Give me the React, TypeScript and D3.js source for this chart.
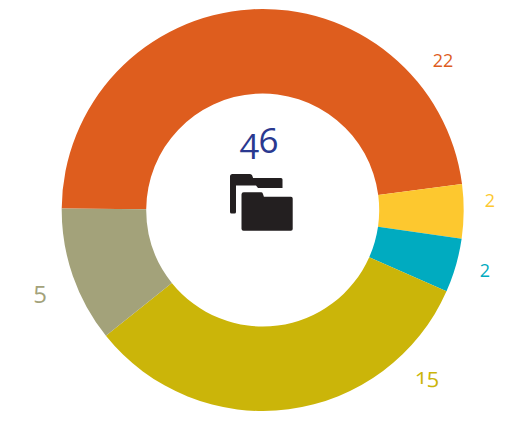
import React, { useEffect, useRef } from 'react';
import * as d3 from 'd3';

const categories = ['a', 'b', 'c', 'd', 'e'];
const values = [22, 2, 2, 15, 5];
const colors = ['#de5d1e', '#fdc82f', '#00abc0', '#cbb509', '#a3a27a'];
const labelX = [443, 490, 485, 427, 40];
const labelY = [67, 207, 277, 384, 303];
const labelSize = [18, 18, 18, 22, 24];
const total = 46;

const width = 518;
const height = 421;
const cx = 262.7;
const cy = 210;

const backFolder = 'M230 176.5q0-2.5 2.5-2.5H250q1.6 0 2.2 1.6l.9 2.4H281q1.5 0 1.5 1.5V188H258L256 185.5H236V212q0 1.5-1.5 1.5h-3q-1.5 0-1.5-1.5z';
const frontFolder = 'M241.5 194.5q0-2.2 2.2-2.2H261q1.4 0 1.9 1.4l1 3H291q1.7 0 1.7 1.7v30.6q0 1.8-1.8 1.8h-47.4q-2 0-2-2z';

const App = () => {
    const ref = useRef<SVGSVGElement>(null);

    useEffect(() => {
        const svg = d3.select(ref.current);
        svg.selectAll('*').remove();

        const color = d3.scaleOrdinal<string>().domain(categories).range(colors);
        const startAngle = (-89.6 * Math.PI) / 180;
        const pie = d3.pie<number>().sort(null).startAngle(startAngle).endAngle(startAngle + 2 * Math.PI);
        const arc = d3.arc<d3.PieArcDatum<number>>().innerRadius(116.5).outerRadius(201);

        svg.append('g')
            .attr('transform', `translate(${cx},${cy})`)
            .selectAll('path')
            .data(pie(values))
            .enter()
            .append('path')
            .attr('d', arc)
            .attr('fill', (d, i) => color(categories[i]));

        svg.selectAll('.label')
            .data(values)
            .enter()
            .append('text')
            .attr('class', 'label')
            .attr('x', (d, i) => labelX[i])
            .attr('y', (d, i) => labelY[i])
            .attr('text-anchor', 'middle')
            .attr('font-family', '"Open Sans", sans-serif')
            .attr('font-size', (d, i) => labelSize[i])
            .attr('fill', (d, i) => colors[i])
            .style('font-variant-numeric', d => (d === 15 ? 'oldstyle-nums' : 'normal'))
            .text(d => d);

        svg.append('text')
            .attr('x', 259)
            .attr('y', 153)
            .attr('text-anchor', 'middle')
            .attr('font-family', '"Open Sans", sans-serif')
            .attr('font-size', 35)
            .attr('fill', '#2a3990')
            .style('font-variant-numeric', 'oldstyle-nums')
            .text(total);

        svg.append('path').attr('d', backFolder).attr('fill', '#231f20');
        svg.append('path').attr('d', frontFolder).attr('fill', '#231f20');
    }, []);

    return (
        <svg
            ref={ref}
            width={width}
            height={height}
            style={{ position: 'absolute', left: 0, top: 0, display: 'block' }}
        />
    );
};

export default App;
